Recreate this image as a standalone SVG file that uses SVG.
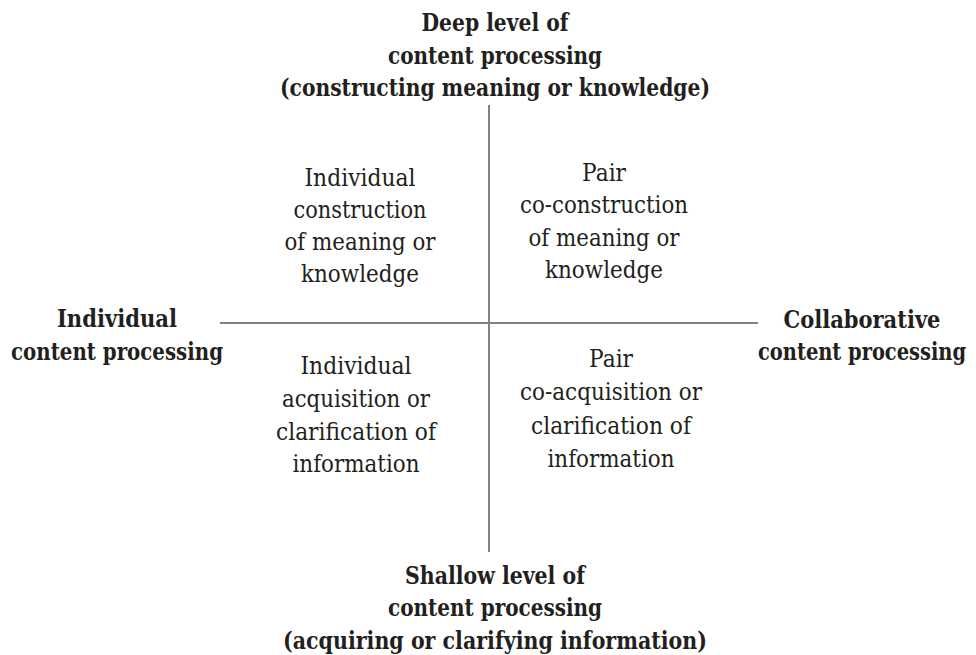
<svg xmlns="http://www.w3.org/2000/svg" width="976" height="655" viewBox="0 0 976 655">
<style>
.b{font-family:'DejaVu Serif','Liberation Serif',serif;font-weight:bold;font-size:25px;fill:#231f20;text-anchor:middle}
.r{font-family:'DejaVu Serif','Liberation Serif',serif;font-size:23.5px;fill:#231f20;text-anchor:middle}
.ax{stroke:#808085;stroke-width:2;fill:none}
</style>
<rect width="976" height="655" fill="#fff"/>
<g id="connectors">
<line class="ax" x1="489" y1="105" x2="489" y2="552"/>
<line class="ax" x1="220" y1="323" x2="758" y2="323"/>
</g>
<g id="top">
<text class="b" x="495" y="31" textLength="147" lengthAdjust="spacingAndGlyphs">Deep level of</text>
<text class="b" x="495" y="63.5" textLength="214" lengthAdjust="spacingAndGlyphs">content processing</text>
<text class="b" x="495" y="96" textLength="430" lengthAdjust="spacingAndGlyphs">(constructing meaning or knowledge)</text>
</g>
<g id="bottom">
<text class="b" x="495" y="584" textLength="180" lengthAdjust="spacingAndGlyphs">Shallow level of</text>
<text class="b" x="495" y="616" textLength="214" lengthAdjust="spacingAndGlyphs">content processing</text>
<text class="b" x="495" y="649" textLength="424" lengthAdjust="spacingAndGlyphs">(acquiring or clarifying information)</text>
</g>
<g id="left">
<text class="b" x="117" y="327" textLength="120" lengthAdjust="spacingAndGlyphs">Individual</text>
<text class="b" x="117" y="360" textLength="212" lengthAdjust="spacingAndGlyphs">content processing</text>
</g>
<g id="right">
<text class="b" x="862" y="328" textLength="157" lengthAdjust="spacingAndGlyphs">Collaborative</text>
<text class="b" x="862" y="360" textLength="208" lengthAdjust="spacingAndGlyphs">content processing</text>
</g>
<g id="q-top-left">
<text class="r" x="360" y="186" textLength="111" lengthAdjust="spacingAndGlyphs">Individual</text>
<text class="r" x="360" y="218" textLength="133" lengthAdjust="spacingAndGlyphs">construction</text>
<text class="r" x="360" y="250" textLength="151" lengthAdjust="spacingAndGlyphs">of meaning or</text>
<text class="r" x="360" y="282" textLength="118" lengthAdjust="spacingAndGlyphs">knowledge</text>
</g>
<g id="q-top-right">
<text class="r" x="604" y="181" textLength="44" lengthAdjust="spacingAndGlyphs">Pair</text>
<text class="r" x="604" y="213" textLength="168" lengthAdjust="spacingAndGlyphs">co-construction</text>
<text class="r" x="604" y="246" textLength="151" lengthAdjust="spacingAndGlyphs">of meaning or</text>
<text class="r" x="604" y="278" textLength="118" lengthAdjust="spacingAndGlyphs">knowledge</text>
</g>
<g id="q-bottom-left">
<text class="r" x="356" y="374" textLength="111" lengthAdjust="spacingAndGlyphs">Individual</text>
<text class="r" x="356" y="407" textLength="148" lengthAdjust="spacingAndGlyphs">acquisition or</text>
<text class="r" x="356" y="440" textLength="160" lengthAdjust="spacingAndGlyphs">clarification of</text>
<text class="r" x="356" y="472" textLength="127" lengthAdjust="spacingAndGlyphs">information</text>
</g>
<g id="q-bottom-right">
<text class="r" x="611" y="367" textLength="44" lengthAdjust="spacingAndGlyphs">Pair</text>
<text class="r" x="611" y="400" textLength="182" lengthAdjust="spacingAndGlyphs">co-acquisition or</text>
<text class="r" x="611" y="434" textLength="160" lengthAdjust="spacingAndGlyphs">clarification of</text>
<text class="r" x="611" y="467" textLength="127" lengthAdjust="spacingAndGlyphs">information</text>
</g>
</svg>
